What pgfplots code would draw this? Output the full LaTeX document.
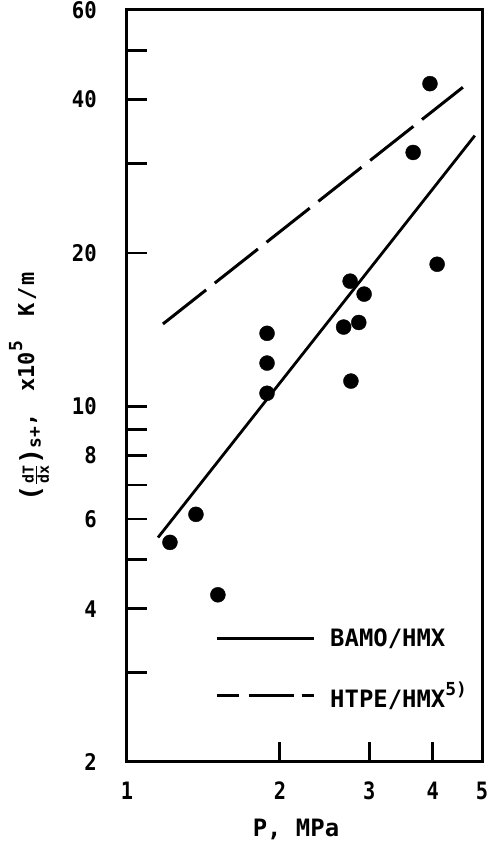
\documentclass[border=0pt]{standalone}
\usepackage{fontspec}
\setmainfont{DejaVu Sans Mono}
\newfontfamily\fa{DejaVu Sans Mono}[FakeStretch=0.9]
\newfontfamily\fb{DejaVu Sans Mono}[FakeStretch=0.85]
\newfontfamily\fc{DejaVu Sans Mono}
\usepackage{pgfplots}
\pgfplotsset{compat=1.18}
\begin{document}
\begin{tikzpicture}
\useasboundingbox (-127bp,-81bp) rectangle (364bp,762bp);
\begin{axis}[
  scale only axis, width=355bp, height=752bp,
  xmode=log, ymode=log,
  xmin=1, xmax=5, ymin=2, ymax=60,
  axis line style={line width=3bp},
  tick align=inside, xtick pos=bottom, ytick pos=left,
  major tick length=20bp, minor tick length=20bp,
  every tick/.style={black, line width=2.8bp},
  xtick={1,2,3,4,5}, xticklabels={1,2,3,4,5},
  ytick={2,4,6,8,10,20,40,60}, yticklabels={2,4,6,8,10,20,40,60},
  minor xtick={}, minor ytick={3,5,7,9,30,50},
  /pgf/number format/assume math mode=true,
  xticklabel style={font=\fb\fontsize{24}{24}\selectfont\bfseries, anchor=north, inner sep=0pt, yshift=-20bp},
  yticklabel style={font=\fa\fontsize{23}{23}\selectfont\bfseries, anchor=east, inner sep=0pt, xshift=-30bp},
  xlabel={P, MPa},
  xlabel style={font=\fontsize{24}{24}\selectfont\bfseries, at={(axis description cs:0.476,-0.0894)}, anchor=center},
  ylabel={\raisebox{-0.25em}{\fontsize{27}{27}\selectfont\bfseries(}\raisebox{-0.35em}{$\frac{\mbox{\fontsize{15}{15}\selectfont\bfseries dT}}{\mbox{\fontsize{15}{15}\selectfont\bfseries dx}}$}\raisebox{-0.25em}{\fontsize{27}{27}\selectfont\bfseries)}\raisebox{-0.3em}{\fontsize{18}{18}\selectfont\bfseries s+},\hspace{22bp}x10\raisebox{0.55em}{\fontsize{18}{18}\selectfont\bfseries 5}\hspace{25bp}K\hspace{2bp}/\hspace{2bp}m},
  ylabel style={font=\fontsize{22}{22}\selectfont\bfseries, at={(axis description cs:-0.276,0.499)}, anchor=center},
  legend style={draw=none, fill=none, inner sep=0pt, at={(axis description cs:0.248,0.1237)}, anchor=west,
    font=\fc\fontsize{24}{24}\selectfont\bfseries, row sep=34bp,
    nodes={inner sep=0pt}, /tikz/every odd column/.append style={column sep=15bp}},
  legend cell align=left,
]
\addplot[only marks, mark=*, mark size=7.5bp, black, forget plot] coordinates {
  (3.95,43.0) (3.66,31.5) (4.08,19.0) (2.75,17.6) (2.93,16.6)
  (1.887,13.9) (1.887,12.15) (1.887,10.6) (2.67,14.3) (2.86,14.6)
  (2.76,11.2) (1.367,6.13) (1.215,5.40) (1.51,4.26)
};
\addplot[black, line width=2.8bp, no marks,
  legend image code/.code={\draw[black, line width=2.8bp] (0bp,0bp) -- (97bp,0bp);}]
  coordinates {(1.151,5.52) (4.84,34.0)};
\addlegendentry{BAMO/HMX}
\addplot[black, line width=3bp, no marks, dash pattern=on 55bp off 11bp,
  legend image code/.code={\draw[black, line width=3bp, dash pattern=on 22bp off 10bp on 45bp off 8bp on 12bp] (0bp,0bp) -- (97bp,0bp);}]
  coordinates {(1.177,14.5) (4.585,42.3)};
\addlegendentry{HTPE/HMX\raisebox{0.5em}{\fc\fontsize{18}{18}\selectfont\bfseries 5)}}
\end{axis}
\end{tikzpicture}
\end{document}
